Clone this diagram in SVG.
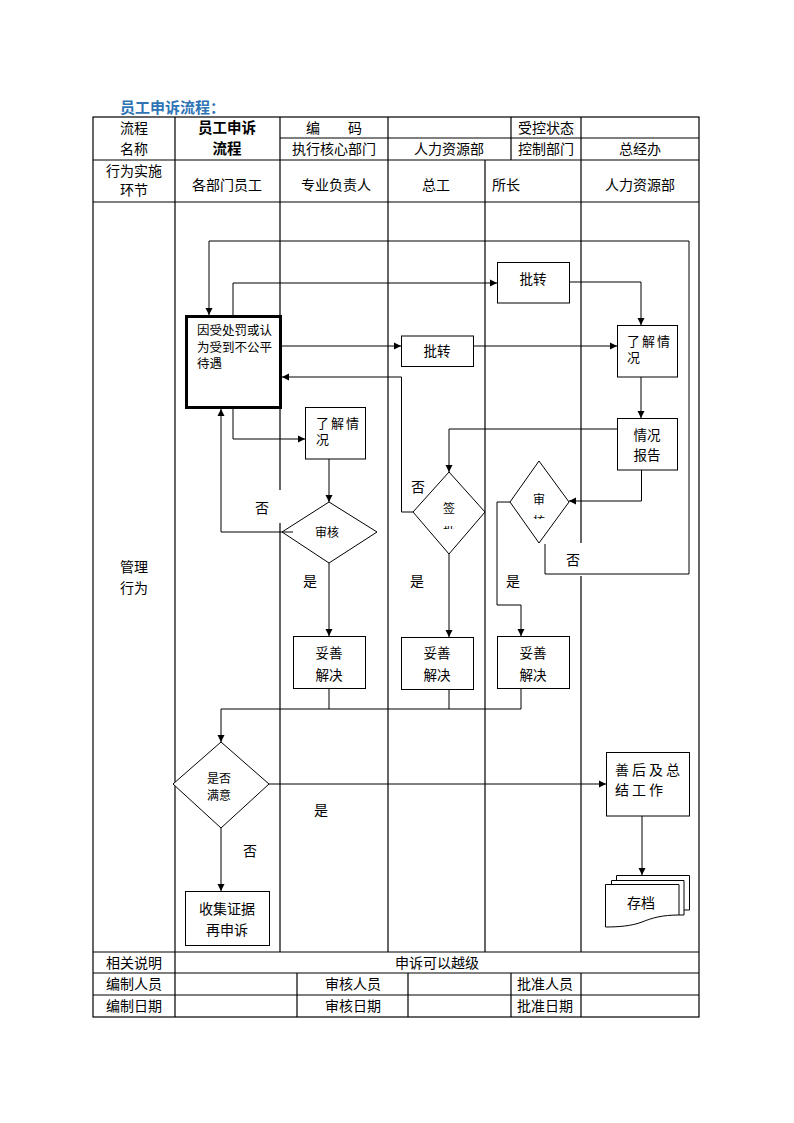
<svg xmlns="http://www.w3.org/2000/svg" width="794" height="1123" viewBox="0 0 794 1123">
<style>
text{font-family:"Liberation Sans","Noto Sans CJK SC",sans-serif;fill:#000}
.h{font-size:14px;text-anchor:middle}
.n{font-size:13.5px}
.c{text-anchor:middle}
.b{font-weight:bold}
.tl{stroke:#000;stroke-width:1.2;fill:none}
.nd{stroke:#000;stroke-width:1;fill:#fff}
.cn{stroke:#000;stroke-width:1;fill:none;marker-end:url(#ar)}
.ln{stroke:#000;stroke-width:1;fill:none}
</style>
<defs>
<marker id="ar" markerUnits="userSpaceOnUse" markerWidth="8" markerHeight="8" refX="7" refY="4" orient="auto">
<path d="M0,0.5 L7,4 L0,7.5 z" fill="#000"/>
</marker>
<clipPath id="c1"><rect x="430" y="500" width="40" height="29"/></clipPath>
<clipPath id="c2"><rect x="520" y="490" width="40" height="29"/></clipPath>
</defs>
<rect width="794" height="1123" fill="#fff"/>
<text x="120" y="113" style="font-size:15px;font-weight:bold;fill:#2E74B5">员工申诉流程：</text>
<g id="table">
<rect class="tl" x="93" y="117" width="606" height="900"/>
<path class="tl" d="M280,138H699 M93,160H699 M93,202H699 M93,952H699 M93,973H699 M93,995H699"/>
<path class="tl" d="M175,117V1017 M280,117V490 M280,523V952 M388,117V952 M511,117V160 M485,160V952 M581,117V543 M581,576V952 M297,973V1017 M408,973V1017 M511,973V1017 M581,973V1017"/>
<text class="h" x="134" y="133">流程</text>
<text class="h" x="134" y="154">名称</text>
<text class="h b" x="227" y="133" style="font-size:14.5px">员工申诉</text>
<text class="h b" x="227" y="154" style="font-size:14.5px">流程</text>
<text class="h" x="334" y="133">编　　码</text>
<text class="h" x="546" y="133">受控状态</text>
<text class="h" x="334" y="154">执行核心部门</text>
<text class="h" x="449" y="154">人力资源部</text>
<text class="h" x="546" y="154">控制部门</text>
<text class="h" x="640" y="154">总经办</text>
<text class="h" x="134" y="176">行为实施</text>
<text class="h" x="134" y="195">环节</text>
<text class="h" x="227" y="190">各部门员工</text>
<text class="h" x="336" y="190">专业负责人</text>
<text class="h" x="436" y="190">总工</text>
<text class="h" x="506" y="190">所长</text>
<text class="h" x="640" y="190">人力资源部</text>
<text class="h" x="134" y="572">管理</text>
<text class="h" x="134" y="593">行为</text>
<text class="h" x="134" y="968">相关说明</text>
<text class="h" x="437" y="968">申诉可以越级</text>
<text class="h" x="134" y="989">编制人员</text>
<text class="h" x="353" y="989">审核人员</text>
<text class="h" x="545" y="989">批准人员</text>
<text class="h" x="134" y="1011">编制日期</text>
<text class="h" x="353" y="1011">审核日期</text>
<text class="h" x="545" y="1011">批准日期</text>
</g>
<g id="n_start">
<rect x="186.5" y="316.5" width="94" height="91" fill="#fff" stroke="#000" stroke-width="3"/>
<text x="197" y="335" style="font-size:12.5px">因受处罚或认</text>
<text x="197" y="352" style="font-size:12.5px">为受到不公平</text>
<text x="197" y="368" style="font-size:12.5px">待遇</text>
</g>
<g id="n_pz1">
<rect class="nd" x="401.5" y="336" width="72" height="30.5"/>
<text class="n c" x="437" y="356">批转</text>
</g>
<g id="n_pz2">
<rect class="nd" x="497.5" y="262.5" width="72" height="40.5"/>
<text class="n c" x="533" y="284">批转</text>
</g>
<g id="n_ljqk_hr">
<rect class="nd" x="617.5" y="325.5" width="60" height="51.5"/>
<text class="n" x="627" y="346" letter-spacing="2" style="font-size:13px">了解情</text>
<text class="n" x="627" y="362" style="font-size:13px">况</text>
</g>
<g id="n_qkbg">
<rect class="nd" x="617.5" y="418.5" width="60" height="51.5"/>
<text class="n c" x="647" y="440">情况</text>
<text class="n c" x="647" y="460">报告</text>
</g>
<g id="n_ljqk_zy">
<rect class="nd" x="305.5" y="407.5" width="60" height="51.5"/>
<text class="n" x="316" y="428" letter-spacing="2" style="font-size:13px">了解情</text>
<text class="n" x="316" y="444" style="font-size:13px">况</text>
</g>
<g id="n_sh1">
<polygon class="nd" points="282,532 329,502 377,532 329,563"/>
<text class="c" x="327" y="537" style="font-size:12px">审核</text>
</g>
<g id="n_qp">
<polygon class="nd" points="413,512 449,472 485,512 449,554"/>
<text class="c" x="449" y="513" style="font-size:12px">签</text>
<text class="c" x="449" y="537" style="font-size:12px" clip-path="url(#c1)">批</text>
</g>
<g id="n_sh2">
<polygon class="nd" points="510,502 539,461 569,502 539,543"/>
<text class="c" x="539" y="504" style="font-size:12px">审</text>
<text class="c" x="539" y="526" style="font-size:12px" clip-path="url(#c2)">核</text>
</g>
<g id="n_ts1">
<rect class="nd" x="293.5" y="636.5" width="72" height="52"/>
<text class="n c" x="329" y="658">妥善</text>
<text class="n c" x="329" y="680">解决</text>
</g>
<g id="n_ts2">
<rect class="nd" x="401.5" y="637.5" width="72" height="52"/>
<text class="n c" x="437" y="658">妥善</text>
<text class="n c" x="437" y="680">解决</text>
</g>
<g id="n_ts3">
<rect class="nd" x="497.5" y="636.5" width="72" height="52"/>
<text class="n c" x="533" y="658">妥善</text>
<text class="n c" x="533" y="680">解决</text>
</g>
<g id="n_myd">
<polygon class="nd" points="173,784 221,742 269,784 221,828"/>
<text class="c" x="219" y="783" style="font-size:12px">是否</text>
<text class="c" x="219" y="800" style="font-size:12px">满意</text>
</g>
<g id="n_shzj">
<rect class="nd" x="606.5" y="752.5" width="83" height="63.5"/>
<text x="615" y="775" style="font-size:14px" letter-spacing="3">善后及总</text>
<text x="615" y="795" style="font-size:14px" letter-spacing="3">结工作</text>
</g>
<g id="n_sjzj">
<rect class="nd" x="185.5" y="891.5" width="84" height="54"/>
<text class="h" x="227" y="914">收集证据</text>
<text class="h" x="227" y="935">再申诉</text>
</g>
<g id="n_cd">
<path class="nd" d="M616.5,875.5H689.5V910H684"/>
<path class="nd" d="M616.5,875.5V880.5"/>
<path class="nd" d="M611.5,880.5H684V915H679"/>
<path class="nd" d="M611.5,880.5V884.5"/>
<path class="nd" d="M605.5,884.5H679V915C662,915 652,918 642,922C632,926 618,927 605.5,927Z"/>
<text class="h" x="641" y="908">存档</text>
</g>
<g id="connectors">
<path class="cn" d="M545,544V574H689V241H209V315"/>
<path class="cn" d="M233,315V283H497"/>
<path class="cn" d="M569,282H641V325"/>
<path class="cn" d="M281,346H401"/>
<path class="cn" d="M473,346H617"/>
<path class="cn" d="M641,377V418"/>
<path class="cn" d="M617,429H449V472"/>
<path class="cn" d="M641.5,470V501H569"/>
<path class="cn" d="M413,512H401.5V377H282"/>
<path class="cn" d="M449,554V637"/>
<path class="cn" d="M510,502H497V605H521V636"/>
<path class="cn" d="M233,408V439H305"/>
<path class="cn" d="M293,532H221V409"/>
<path class="cn" d="M329,459V502"/>
<path class="cn" d="M329,563V636"/>
<path class="ln" d="M329,689V709M449,689V709"/>
<path class="cn" d="M521,689V709H221V742"/>
<path class="cn" d="M269,784H606"/>
<path class="cn" d="M221,828V891"/>
<path class="cn" d="M642,816V875"/>
<text class="h" x="262" y="513">否</text>
<text class="h" x="310" y="586">是</text>
<text class="h" x="418" y="492">否</text>
<text class="h" x="417" y="586">是</text>
<text class="h" x="513" y="586">是</text>
<text class="h" x="573" y="565">否</text>
<text class="h" x="321" y="815">是</text>
<text class="h" x="250" y="856">否</text>
</g>
</svg>
